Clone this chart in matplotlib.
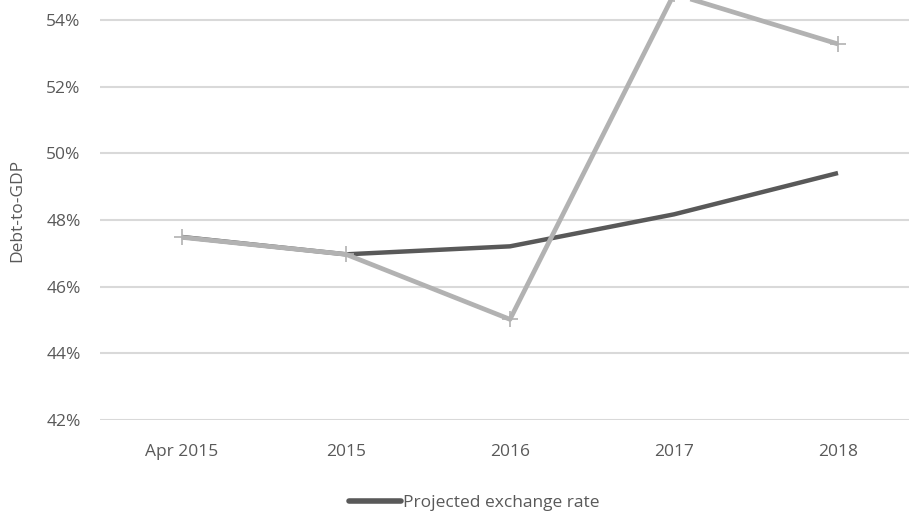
import matplotlib.pyplot as plt
from matplotlib.ticker import FuncFormatter

plt.rcParams['font.family'] = ['Open Sans', 'DejaVu Sans']

categories = ["Apr 2015", "2015", "2016", "2017", "2018"]
projected = [47.49, 46.97, 47.21, 48.17, 49.41]
shocked = [47.48, 46.97, 45.02, 54.78, 53.28]
y_ticks = [42, 44, 46, 48, 50, 52, 54]

txt = '#595959'
fig = plt.figure(figsize=(9.09, 5.16), dpi=100)
ax = fig.add_axes([100 / 909, 96 / 516, 820 / 909, 420 / 516])

x = range(len(categories))
ax.plot(x, projected, color='#595959', lw=3.2, solid_capstyle='butt',
        label='Projected exchange rate', zorder=3)
ax.plot(x, shocked, color='#b2b2b2', lw=3.4, marker='+', ms=12, mew=1.2,
        solid_capstyle='butt', label='_nolegend_', zorder=4)

ax.set_xlim(-0.5, len(categories) - 0.5)
ax.set_ylim(42, 54.6)
ax.set_yticks(y_ticks)
ax.yaxis.set_major_formatter(FuncFormatter(lambda v, p: f"{v:.0f}%"))
ax.set_xticks(list(x))
ax.set_xticklabels(categories)
ax.grid(axis='y', color='#d9d9d9', lw=1.5)
ax.set_axisbelow(True)
for s in ax.spines.values():
    s.set_visible(False)
ax.tick_params(length=0, labelsize=12.5, colors=txt)
ax.tick_params(axis='y', pad=14)
ax.tick_params(axis='x', pad=17)
ax.set_ylabel("Debt-to-GDP", fontsize=12.5, color=txt, labelpad=15)

leg = fig.legend(loc='center', bbox_to_anchor=(474 / 909, 1 - 503 / 516),
                 frameon=False, fontsize=12.5, handlelength=3.0,
                 handletextpad=0.1, labelcolor=txt)
for l in leg.get_lines():
    l.set_solid_capstyle('round')
    l.set_linewidth(4)

fig.savefig("out.png", dpi=100)
